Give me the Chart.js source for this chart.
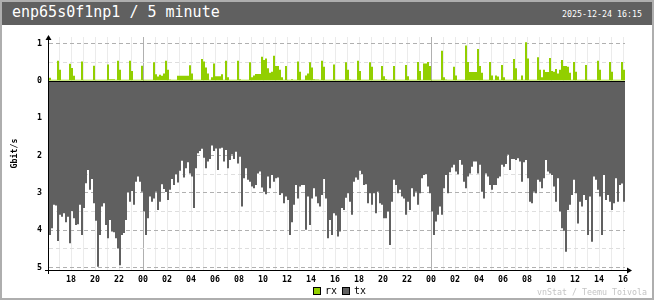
<!DOCTYPE html>
<html>
<head>
<meta charset="utf-8">
<script src="https://cdn.jsdelivr.net/npm/chart.js@4.4.1/dist/chart.umd.min.js"></script>
<style>
  html, body { margin: 0; padding: 0; background: #fff; }
  #wrap { position: relative; width: 654px; height: 300px; background: #fff; overflow: hidden; }
  #myChart { position: absolute; left: 0; top: 0; }
  #frame { position: absolute; left: 0; top: 0; width: 654px; height: 300px; box-sizing: border-box; border: 2px solid #AEAEAE; }
  #header { position: absolute; left: 2px; top: 2px; width: 650px; height: 23px; background: #606060; }
  #title { position: absolute; left: 12px; top: 5px; font: 15px/15px "DejaVu Sans Mono", monospace; color: #fff; white-space: pre; }
  #stamp { position: absolute; left: 562px; top: 10px; font: 8.3px/8px "DejaVu Sans Mono", monospace; color: #fff; white-space: pre; }
  .box { position: absolute; top: 287px; width: 8px; height: 8px; box-sizing: border-box; border: 1px solid #000; }
  #rxBox { left: 313px; background: #92CF00; }
  #txBox { left: 342px; background: #606060; }
  .lg { position: absolute; top: 285px; font: 10px/12px "DejaVu Sans Mono", monospace; color: #000; }
  #rxLabel { left: 325px; }
  #txLabel { left: 354px; }
  #credit { position: absolute; left: 537px; top: 288px; font: 8.3px/8px "DejaVu Sans Mono", monospace; color: #C4C4C4; white-space: pre; }
</style>
</head>
<body>
<div id="wrap">
  <canvas id="myChart" width="654" height="300"></canvas>
  <div id="frame"></div>
  <div id="header"></div>
  <div id="title">enp65s0f1np1 / 5 minute</div>
  <div id="stamp">2025-12-24 16:15</div>
  <div class="box" id="rxBox"></div><div class="lg" id="rxLabel">rx</div>
  <div class="box" id="txBox"></div><div class="lg" id="txLabel">tx</div>
  <div id="credit">vnStat / Teemu Toivola</div>
</div>
<script>
// one sample every 10 minutes, first one 16:10 on 2025-12-22
var START_TIME = "16:10";
var STEP_MINUTES = 10;

// received, Gbit/s
var rxGbit = [
  .09,.03,.03,.03,.54,.3,.03,.03,.03,.03,.46,.35,.14,.03,.03,.03,.52,.03,.03,.03,.03,.03,.41,.03,
  .03,.03,.03,.03,.03,.44,.05,.05,.05,.03,.54,.3,.03,.03,.03,.03,.54,.27,.03,.03,.03,.03,.41,.03,
  .03,.03,.03,.03,.5,.18,.12,.17,.14,.2,.54,.3,.04,.03,.03,.03,.14,.14,.14,.14,.14,.14,.42,.2,
  .03,.03,.03,.03,.59,.52,.36,.2,.03,.1,.47,.13,.13,.13,.18,.03,.54,.1,.03,.03,.03,.03,.54,.05,
  .03,.03,.03,.03,.5,.1,.15,.19,.19,.19,.65,.56,.6,.34,.22,.25,.68,.4,.4,.3,.1,.03,.4,.03,
  .03,.05,.03,.03,.52,.25,.03,.03,.15,.2,.5,.36,.05,.04,.04,.03,.54,.38,.03,.03,.03,.03,.44,.03,
  .03,.03,.03,.03,.5,.3,.04,.03,.03,.03,.54,.27,.03,.03,.03,.03,.5,.38,.03,.03,.03,.03,.4,.13,
  .05,.03,.03,.03,.4,.03,.03,.03,.03,.03,.43,.13,.03,.03,.03,.03,.51,.27,.03,.47,.47,.51,.4,.03,
  .03,.03,.03,.03,.81,.1,.04,.03,.03,.03,.38,.15,.03,.03,.03,.03,.95,.51,.24,.24,.24,.24,.86,.4,
  .22,.03,.03,.03,.51,.15,.03,.15,.12,.03,.43,.1,.03,.03,.03,.03,.59,.34,.03,.03,.15,.03,1.04,.6,
  .03,.03,.03,.03,.64,.3,.1,.3,.24,.24,.62,.27,.25,.32,.2,.3,.56,.4,.4,.38,.22,.03,.51,.25,
  .03,.03,.03,.03,.43,.03,.03,.03,.03,.03,.54,.3,.03,.03,.03,.03,.51,.25,.03,.03,.03,.03,.51,.3
];

// transmitted, Gbit/s (drawn downwards)
var txGbit = [
  4.13,3.95,3.32,3.34,4.29,3.59,3.64,3.55,3.79,3.64,4.35,3.49,3.68,3.86,3.84,3.32,4.13,3.41,2.74,2.39,2.92,2.63,3.28,3.75,
  4.98,4.13,3.37,3.28,3.86,4.22,3.73,4.04,4.06,4.22,4.49,4.94,4.13,4.08,3.73,2.98,3.24,2.95,3.32,2.70,2.56,2.70,2.97,3.50,
  4.13,3.68,3.10,3.24,3.15,2.97,3.46,3.24,2.77,2.90,2.98,3.19,2.92,2.63,2.79,2.50,2.72,2.41,2.14,2.59,2.34,2.18,2.48,2.56,
  3.41,2.34,1.94,1.88,1.82,2.06,2.34,2.16,2.09,1.73,1.88,1.81,2.39,1.81,1.79,2.16,1.85,2.34,2.12,1.97,2.09,1.90,2.21,2.03,
  3.37,2.61,2.34,2.65,2.70,2.83,2.88,2.79,2.48,2.43,2.86,2.97,3.04,2.56,2.88,2.52,2.70,2.61,2.59,3.06,3.01,3.28,3.10,3.19,
  4.13,3.79,3.32,2.79,3.15,2.83,2.79,2.79,3.99,3.10,3.86,3.15,2.88,3.10,3.28,3.37,3.06,2.63,3.15,4.22,3.73,4.13,3.55,3.61,
  4.17,4.04,3.41,3.46,3.13,3.01,3.24,3.59,2.70,2.59,2.65,2.41,2.50,2.79,2.77,3.28,3.01,3.32,3.01,3.55,2.97,3.28,3.32,3.68,
  3.68,3.50,4.40,3.24,2.65,2.79,3.01,2.92,3.10,3.15,3.59,3.24,3.46,2.88,3.10,2.97,3.32,3.01,2.61,2.52,2.50,2.83,3.01,3.50,
  4.13,3.77,3.59,3.37,3.59,2.88,2.52,3.01,2.45,2.32,2.25,2.43,2.50,2.12,2.25,2.70,2.88,2.56,2.48,2.30,2.16,2.16,2.48,2.25,
  2.97,3.15,2.48,2.56,2.79,2.92,2.79,2.79,2.61,2.56,2.25,2.30,2.23,1.98,2.39,2.09,2.09,2.12,2.07,2.16,2.70,2.18,2.12,2.61,
  3.24,3.28,2.97,3.01,2.65,2.70,2.88,2.61,2.12,2.43,2.48,2.52,2.83,3.24,2.61,3.50,3.95,4.02,4.58,3.46,3.32,3.06,2.65,3.01,
  3.82,3.24,3.37,3.06,3.19,4.13,3.10,4.31,2.56,2.65,2.92,3.10,4.13,2.52,3.19,3.06,3.24,3.46,3.28,2.61,3.24,2.79,2.75,3.24
];

// y grid / tick positions (tx side negative)
var yTicks = [-5, -4.5, -4, -3.5, -3, -2.5, -2, -1.5, -1, -0.5, 0, 0.5, 1];

var Y_MIN = -5.07;
var Y_MAX = 1.18;

var RX_COLOR = "#92CF00";
var TX_COLOR = "#606060";

function pad(n) {
  return (n < 10 ? "0" : "") + n;
}

// time labels for the samples
var times = [];
var startMin = parseInt(START_TIME.substring(0, 2)) * 60 + parseInt(START_TIME.substring(3, 5));
for (var i = 0; i < rxGbit.length; i++) {
  var m = (startMin + i * STEP_MINUTES) % 1440;
  times.push(pad(Math.floor(m / 60)) + ":" + pad(m % 60));
}

var txDown = [];
for (var i = 0; i < txGbit.length; i++) {
  txDown.push(-txGbit[i]);
}

// axis lines, arrows and the zero line on top of the bars
var axesPlugin = {
  id: "vnAxes",
  afterDatasetsDraw: function(chart) {
    var ctx = chart.ctx;
    var a = chart.chartArea;
    var y0 = Math.round(chart.scales.y.getPixelForValue(0)) + 0.5;
    var ax = a.left - 0.5;
    var ay = a.bottom + 0.5;

    ctx.save();
    ctx.strokeStyle = "#000";
    ctx.fillStyle = "#000";
    ctx.lineWidth = 1;
    ctx.beginPath();
    ctx.moveTo(a.left, y0);
    ctx.lineTo(a.right, y0);
    ctx.moveTo(ax, a.top - 1);
    ctx.lineTo(ax, a.bottom + 4);
    ctx.moveTo(a.left - 4, ay);
    ctx.lineTo(a.right + 4, ay);
    ctx.stroke();

    ctx.beginPath();
    ctx.moveTo(ax, a.top - 2);
    ctx.lineTo(ax - 3, a.top + 3);
    ctx.lineTo(ax + 3, a.top + 3);
    ctx.closePath();
    ctx.fill();

    ctx.beginPath();
    ctx.moveTo(a.right + 7, ay);
    ctx.lineTo(a.right + 2, ay - 3);
    ctx.lineTo(a.right + 2, ay + 3);
    ctx.closePath();
    ctx.fill();
    ctx.restore();
  }
};

var tickFont = { family: "DejaVu Sans Mono", size: 8.3, weight: "bold" };

var ctx = document.getElementById("myChart").getContext("2d");

var myChart = new Chart(ctx, {
  type: "bar",
  data: {
    labels: times,
    datasets: [
      {
        label: "rx",
        data: rxGbit,
        backgroundColor: RX_COLOR,
        borderWidth: 0,
        barPercentage: 1,
        categoryPercentage: 1,
        inflateAmount: 0
      },
      {
        label: "tx",
        data: txDown,
        backgroundColor: TX_COLOR,
        borderWidth: 0,
        barPercentage: 1,
        categoryPercentage: 1,
        inflateAmount: 0
      }
    ]
  },
  options: {
    responsive: false,
    animation: false,
    devicePixelRatio: 1,
    layout: { padding: { left: 0, top: 37, right: 29, bottom: 0 } },
    plugins: {
      legend: { display: false },
      tooltip: { enabled: false }
    },
    scales: {
      x: {
        stacked: true,
        afterFit: function(scale) { scale.height = 30; },
        border: { display: false },
        grid: {
          drawTicks: false,
          color: function(c) {
            var t = times[c.index];
            if (!t) return "rgba(0,0,0,0)";
            if (t == "00:00") return "#B0B0B0";
            if (t.substring(3) == "00") return "#EBEBEB";
            return "rgba(0,0,0,0)";
          }
        },
        ticks: {
          autoSkip: false,
          maxRotation: 0,
          minRotation: 0,
          padding: 5,
          labelOffset: -1,
          color: "#000",
          font: tickFont,
          callback: function(value, index) {
            var t = times[index];
            if (t.substring(3) != "00") return "";
            if (parseInt(t.substring(0, 2)) % 2 != 0) return "";
            return t.substring(0, 2);
          }
        }
      },
      y: {
        stacked: true,
        min: Y_MIN,
        max: Y_MAX,
        afterFit: function(scale) { scale.width = 49; },
        afterBuildTicks: function(scale) {
          scale.ticks = yTicks.map(function(v) { return { value: v }; });
        },
        border: { display: false, dash: [4, 3] },
        grid: {
          drawTicks: false,
          color: function(c) {
            var v = c.tick ? c.tick.value : 0;
            if (v == 0) return "rgba(0,0,0,0)";
            if (Number.isInteger(v)) return "#B0B0B0";
            return "#DEDEDE";
          }
        },
        ticks: {
          padding: 7,
          color: "#000",
          font: tickFont,
          callback: function(value) {
            if (!Number.isInteger(value)) return "";
            return String(Math.abs(value));
          }
        },
        title: {
          display: true,
          text: "Gbit/s",
          color: "#000",
          font: tickFont,
          padding: { top: 10, bottom: 0 }
        }
      }
    }
  },
  plugins: [axesPlugin]
});
</script>
</body>
</html>
